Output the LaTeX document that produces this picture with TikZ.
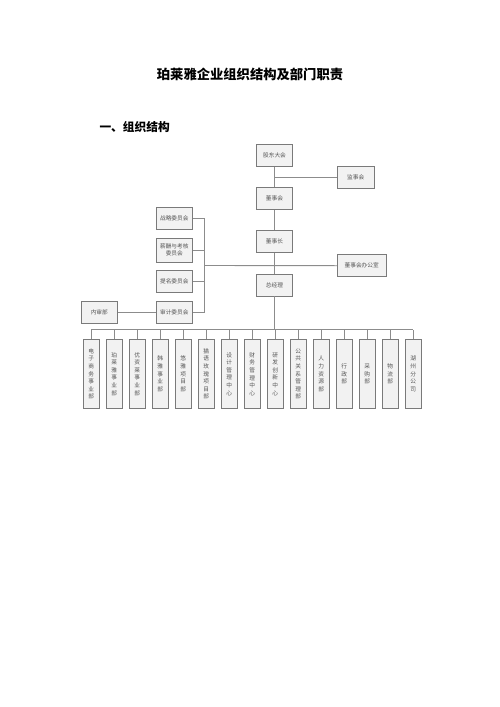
\documentclass[tikz,border=0pt]{standalone}
\usepackage{fontspec}
\setmainfont{Noto Sans CJK SC}
\usepackage{tikz}

\definecolor{boxline}{HTML}{7A7A7A}
\definecolor{boxfill}{HTML}{F2F2F2}
\definecolor{linkline}{HTML}{8C8C8C}
\definecolor{boxtext}{HTML}{555555}

\begin{document}
\begin{tikzpicture}[x=1pt, y=-1pt]
	\tikzset{unit/.style = {shape=rectangle, draw=boxline, fill=boxfill, line width=0.9pt, inner sep=0pt, minimum width=36.7pt, minimum height=22pt, text=boxtext, font=\fontsize{5.7}{7}\selectfont}}
	\tikzset{dept/.style = {unit, minimum width=16pt, minimum height=69pt, align=center, font=\fontsize{5.7}{7.6}\selectfont}}
	\tikzset{link/.style = {draw=linkline, line width=0.9pt}}
	\useasboundingbox (0, 0) rectangle (500, 707);
	\node[font=\fontsize{13.3}{15}\selectfont\bfseries] (title) at (250, 74.5) {珀莱雅企业组织结构及部门职责};
	\node[anchor=west, inner sep=0pt, font=\fontsize{11.7}{13}\selectfont\bfseries] (sec) at (99.3, 126.7) {一、组织结构};
	\node[unit] (gd) at (274.5, 155.5) {股东大会};
	\node[unit] (jsh) at (355.7, 177.7) {监事会};
	\node[unit] (dsh) at (274.5, 198.3) {董事会};
	\node[unit] (dsz) at (274.5, 241.7) {董事长};
	\node[unit, minimum width=48.7pt] (bgs) at (361.7, 265.7) {董事会办公室};
	\node[unit] (zjl) at (274.5, 285) {总经理};
	\node[unit] (zl) at (174.3, 218.3) {战略委员会};
	\node[unit, minimum height=23.3pt, align=center] (xc) at (174.3, 250.3) {薪酬与考核\\委员会};
	\node[unit] (tm) at (174.3, 281.7) {提名委员会};
	\node[unit] (sj) at (174.3, 312) {审计委员会};
	\node[unit, minimum width=36pt] (ns) at (99.3, 312) {内审部};
	\node[dept] (d1) at (91.3, 374) {电\\子\\商\\务\\事\\业\\部};
	\node[dept] (d2) at (114.3, 374) {珀\\莱\\雅\\事\\业\\部};
	\node[dept] (d3) at (137.3, 374) {优\\资\\莱\\事\\业\\部};
	\node[dept] (d4) at (160.3, 374) {韩\\雅\\事\\业\\部};
	\node[dept] (d5) at (183.3, 374) {悠\\雅\\项\\目\\部};
	\node[dept] (d6) at (206.3, 374) {猫\\语\\玫\\瑰\\项\\目\\部};
	\node[dept] (d7) at (229.3, 374) {设\\计\\管\\理\\中\\心};
	\node[dept] (d8) at (252.3, 374) {财\\务\\管\\理\\中\\心};
	\node[dept] (d9) at (275.3, 374) {研\\发\\创\\新\\中\\心};
	\node[dept] (d10) at (298.3, 374) {公\\共\\关\\系\\管\\理\\部};
	\node[dept] (d11) at (321.3, 374) {人\\力\\资\\源\\部};
	\node[dept] (d12) at (344.3, 374) {行\\政\\部};
	\node[dept] (d13) at (367.3, 374) {采\\购\\部};
	\node[dept] (d14) at (390.3, 374) {物\\流\\部};
	\node[dept] (d15) at (413.3, 374) {湖\\州\\分\\公\\司};
	\coordinate (cmt) at (204, 265.5);
	\coordinate (bus) at (274.5, 329.5);
	% upper chain
	\draw[link] (gd) -- (dsh);
	\draw[link] (jsh.west) -- (jsh.west -| gd.south);
	\draw[link] (dsh) -- (dsz);
	\draw[link] (dsz) -- (zjl);
	\draw[link] (bgs.west) -- (cmt);
	% committees
	\draw[link] (zl.east) -| (cmt);
	\draw[link] (sj.east) -| (cmt);
	\draw[link] (xc.east) -- (xc.east -| cmt);
	\draw[link] (tm.east) -- (tm.east -| cmt);
	\draw[link] (ns) -- (sj);
	% departments
	\draw[link] (zjl) -- (bus);
	\draw[link] (d1.north |- bus) -- (d15.north |- bus);
	\draw[link] (d1) -- (d1 |- bus);
	\draw[link] (d2) -- (d2 |- bus);
	\draw[link] (d3) -- (d3 |- bus);
	\draw[link] (d4) -- (d4 |- bus);
	\draw[link] (d5) -- (d5 |- bus);
	\draw[link] (d6) -- (d6 |- bus);
	\draw[link] (d7) -- (d7 |- bus);
	\draw[link] (d8) -- (d8 |- bus);
	\draw[link] (d9) -- (d9 |- bus);
	\draw[link] (d10) -- (d10 |- bus);
	\draw[link] (d11) -- (d11 |- bus);
	\draw[link] (d12) -- (d12 |- bus);
	\draw[link] (d13) -- (d13 |- bus);
	\draw[link] (d14) -- (d14 |- bus);
	\draw[link] (d15) -- (d15 |- bus);
\end{tikzpicture}
\end{document}
